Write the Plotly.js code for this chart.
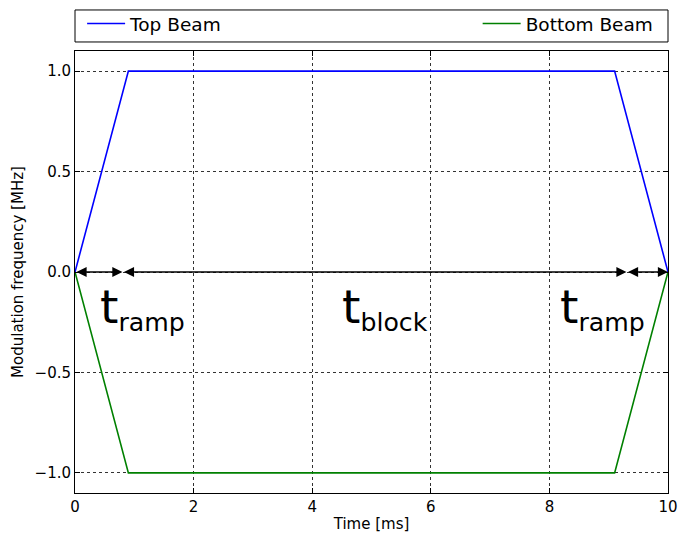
<!DOCTYPE html>
<html>
<head>
<meta charset="utf-8">
<script src="https://cdn.plot.ly/plotly-3.0.1.min.js"></script>
<style>html,body{margin:0;padding:0;background:#fff;}#chart{width:678px;height:533px;}</style>
</head>
<body>
<div id="chart"></div>
<script>
// Data
const timeMs = [0, 0.9, 9.1, 10];
const topBeam = [0, 1.0, 1.0, 0];
const bottomBeam = [0, -1.0, -1.0, 0];
const seriesNames = ['Top Beam', 'Bottom Beam'];
const arrowBounds = [0, 0.8, 9.3, 10];
const labelTexts = ['t<sub>ramp</sub>', 't<sub>block</sub>', 't<sub>ramp</sub>'];
const labelX = [1.13, 5.23, 8.89];
const labelY = [-0.18, -0.18, -0.18];
const xTicks = [0, 2, 4, 6, 8, 10];
const yTicks = [-1.0, -0.5, 0.0, 0.5, 1.0];

const FONT = 'DejaVu Sans, sans-serif';

const traces = [
  {x: timeMs, y: topBeam, name: seriesNames[0], mode: 'lines', line: {color: '#0000ff', width: 1.6}, legend: 'legend'},
  {x: timeMs, y: bottomBeam, name: seriesNames[1], mode: 'lines', line: {color: '#008000', width: 1.6}, legend: 'legend2'}
];

const annotations = [];
for (let i = 0; i < arrowBounds.length - 1; i++) {
  annotations.push({
    x: arrowBounds[i + 1], y: 0, ax: arrowBounds[i], ay: 0,
    xref: 'x', yref: 'y', axref: 'x', ayref: 'y',
    text: '', showarrow: true,
    arrowside: 'end+start', arrowhead: 2, startarrowhead: 2,
    arrowsize: 1.35, startarrowsize: 1.35, arrowwidth: 1.5, arrowcolor: '#000',
    standoff: 0, startstandoff: 0
  });
}
for (let i = 0; i < labelTexts.length; i++) {
  annotations.push({
    x: labelX[i], y: labelY[i], xref: 'x', yref: 'y',
    text: '<span style="font-size:47px">' + labelTexts[i].replace('<sub>', '</span><sub>'),
    showarrow: false, xanchor: 'center', yanchor: 'middle',
    font: {family: FONT, size: 36, color: '#000'}
  });
}

const legendCommon = {
  orientation: 'h', y: 1.0610, yanchor: 'middle', xanchor: 'left',
  bgcolor: 'rgba(0,0,0,0)', borderwidth: 0,
  font: {family: FONT, size: 18.5, color: '#000'}, itemwidth: 38
};

const layout = {
  width: 678, height: 533,
  margin: {l: 75, r: 10, t: 51, b: 40, autoexpand: false},
  paper_bgcolor: '#fff', plot_bgcolor: '#fff',
  font: {family: FONT, size: 15, color: '#000'},
  showlegend: true,
  legend: Object.assign({}, legendCommon, {x: 0.012}),
  legend2: Object.assign({}, legendCommon, {x: 0.679}),
  xaxis: {
    range: [0, 10], tickvals: xTicks, ticktext: xTicks.map(String),
    showgrid: true, gridcolor: '#333', gridwidth: 1, griddash: 'dot',
    zeroline: false, showline: true, linecolor: '#000', linewidth: 1, mirror: 'ticks',
    ticks: 'inside', ticklen: 5, tickcolor: '#000',
    tickfont: {family: FONT, size: 15},
    title: {text: 'Time [ms]', font: {family: FONT, size: 15}, standoff: 11}
  },
  yaxis: {
    range: [-1.1, 1.1], tickvals: yTicks, tickformat: '.1f',
    showgrid: true, gridcolor: '#333', gridwidth: 1, griddash: 'dot',
    zeroline: false, showline: true, linecolor: '#000', linewidth: 1, mirror: 'ticks',
    ticks: 'inside', ticklen: 5, tickcolor: '#000',
    tickfont: {family: FONT, size: 15},
    title: {text: 'Modulation frequency [MHz]', font: {family: FONT, size: 15}, standoff: 7}
  },
  shapes: [{
    type: 'rect', xref: 'paper', yref: 'paper',
    x0: 0, x1: 1, y0: 1.0204, y1: 1.0928,
    line: {color: '#000', width: 1}, fillcolor: 'rgba(0,0,0,0)'
  }],
  annotations: annotations
};

Plotly.newPlot('chart', traces, layout, {displayModeBar: false, staticPlot: true});
</script>
</body>
</html>
